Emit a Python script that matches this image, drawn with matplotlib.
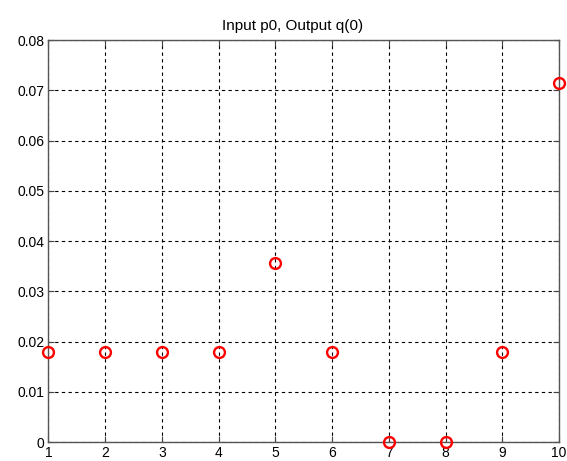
import matplotlib
matplotlib.use("Agg")
import matplotlib.pyplot as plt

x_vals = [1, 2, 3, 4, 5, 6, 7, 8, 9, 10]
y_vals = [0.0179, 0.0179, 0.0179, 0.0179, 0.0357, 0.0179, 0.0, 0.0, 0.0179, 0.0714]
title = "Input p0, Output q(0)"
x_ticks = [1, 2, 3, 4, 5, 6, 7, 8, 9, 10]
y_ticks = [0, 0.01, 0.02, 0.03, 0.04, 0.05, 0.06, 0.07, 0.08]
y_tick_labels = ["0", "0.01", "0.02", "0.03", "0.04", "0.05", "0.06", "0.07", "0.08"]

plt.rcParams['font.family'] = ['Liberation Sans', 'DejaVu Sans']
fig = plt.figure(figsize=(5.67, 4.61), dpi=100)
ax = fig.add_axes([0.0855, 0.041, 0.9005, 0.872])
ax.plot(x_vals, y_vals, linestyle='none', marker='o', markersize=7.8,
        markerfacecolor='none', markeredgecolor='red', markeredgewidth=1.7,
        clip_on=False, zorder=5)
ax.set_xlim(1, 10)
ax.set_ylim(0, 0.08)
ax.set_xticks(x_ticks)
ax.set_xticklabels([str(v) for v in x_ticks])
ax.set_yticks(y_ticks)
ax.set_yticklabels(y_tick_labels)
ax.grid(True, color='black', linestyle=(0, (3, 3)), linewidth=0.8)
ax.tick_params(direction='in', length=4, labelsize=10, color='#444444',
               top=True, right=True, pad=3)
ax.tick_params(axis='x', pad=2.5)
for s in ax.spines.values():
    s.set_color('#555555')
    s.set_linewidth(1.0)
ax.set_title(title, fontsize=11, pad=7, x=0.478)
fig.savefig('out.png', dpi=100)
